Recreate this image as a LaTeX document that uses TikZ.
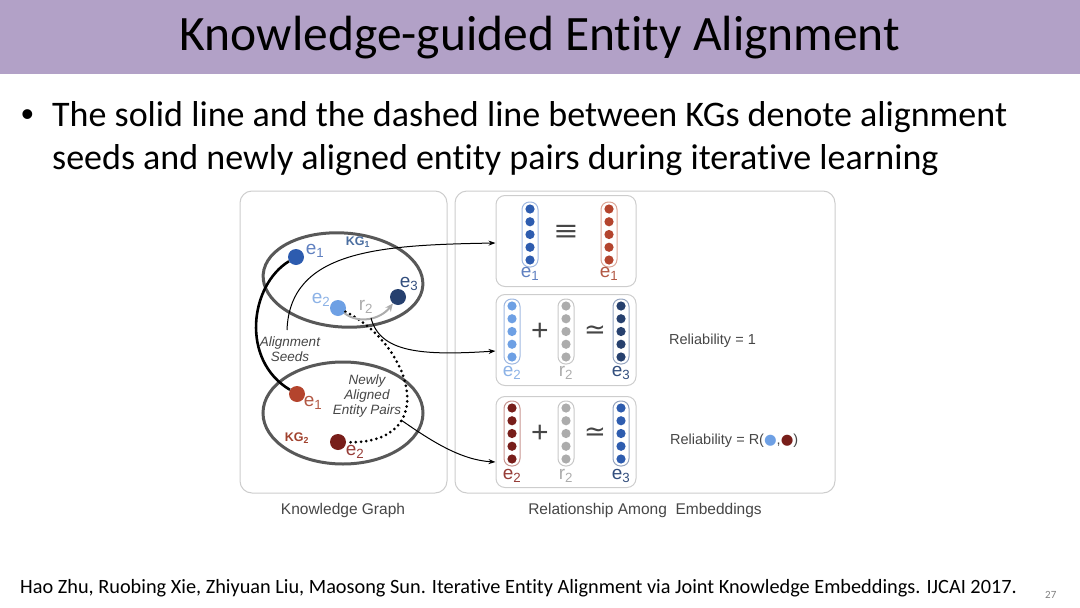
\documentclass[tikz,border=0pt]{standalone}
\usepackage{fontspec}
\setmainfont{Carlito}[Ligatures=NoCommon]
\newfontfamily\hv{Liberation Sans}
\newfontfamily\dvs{DejaVu Sans}
\usetikzlibrary{arrows.meta}
\definecolor{titlebg}{RGB}{178,161,199}
\definecolor{panelline}{RGB}{205,205,205}
\definecolor{kgline}{RGB}{88,88,88}
\definecolor{eblue}{RGB}{45,92,175}
\definecolor{elight}{RGB}{110,160,228}
\definecolor{enavy}{RGB}{38,64,110}
\definecolor{ered}{RGB}{180,68,45}
\definecolor{edark}{RGB}{120,30,26}
\definecolor{rgray}{RGB}{172,172,172}
\definecolor{kgblue}{RGB}{75,110,160}
\definecolor{kgred}{RGB}{160,65,45}
\definecolor{lblblue}{RGB}{95,128,192}
\definecolor{lbllight}{RGB}{140,178,230}
\definecolor{lblnavy}{RGB}{50,78,125}
\definecolor{lblred}{RGB}{178,88,68}
\definecolor{lbldark}{RGB}{150,60,55}
\definecolor{txtgray}{RGB}{70,70,70}
\definecolor{bblue}{RGB}{160,185,225}
\definecolor{bred}{RGB}{220,165,150}
\definecolor{bgray}{RGB}{200,200,200}
\definecolor{bnavy}{RGB}{150,165,192}
\definecolor{bdark}{RGB}{200,150,145}
\newcommand\embvec[4]{%
  \draw[draw=#4, line width=1, fill=white, rounded corners=7.5] (#1-8,#2) rectangle (#1+8,#2+65);
  \foreach \k in {0,...,4} { \fill[#3] (#1, #2+7+12.75*\k) circle (4.6); }
}
\tikzset{
  panel/.style={draw=panelline, line width=1, rounded corners=12},
  ebox/.style={draw=panelline, line width=1, rounded corners=9, minimum width=140, minimum height=91, inner sep=0},
  kg/.style={draw=kgline, line width=3},
  dot/.style={circle, inner sep=0, minimum size=16},
  elbl/.style={font=\hv\fontsize{19}{19}\selectfont, inner sep=0},
  vlbl/.style={font=\hv\fontsize{19}{19}\selectfont, inner sep=0},
  ital/.style={font=\hv\itshape\fontsize{13.5}{15}\selectfont, text=txtgray, align=center, inner sep=0},
  caption/.style={font=\hv\fontsize{15.5}{16}\selectfont, text=txtgray, inner sep=0},
  seed/.style={draw=black, line width=2.6},
  newpair/.style={draw=black, line width=3, line cap=round, dash pattern=on 0pt off 5.2pt},
  thin/.style={draw=black, line width=1, -{Stealth[length=7, width=5]}},
  rel/.style={draw=rgray, line width=2, -{Stealth[length=8, width=7]}},
  op/.style={font=\hv\fontsize{30}{30}\selectfont, text=txtgray, inner sep=0},
  rely/.style={font=\hv\fontsize{14.5}{15}\selectfont, text=txtgray, anchor=west, inner sep=0},
  body/.style={font=\fontsize{36}{43}\selectfont, anchor=base west, inner sep=0}
}
\begin{document}
\begin{tikzpicture}[x=1pt,y=-1pt]
\useasboundingbox (0,0) rectangle (1080,608);
\fill[titlebg] (0,0) rectangle (1080,74);
\node[font=\fontsize{49.5}{55}\selectfont, inner sep=0] (title) at (540,38) {Knowledge-guided Entity Alignment};
\node[body, font=\hv\fontsize{36}{43}\selectfont] (bul) at (21,126) {•};
\node[body] (l1) at (52,126) {The solid line and the dashed line between KGs denote alignment};
\node[body] (l2) at (52,169) {seeds and newly aligned entity pairs during iterative learning};

% panels
\draw[panel] (240,191) rectangle (447,493);
\draw[panel] (455,191) rectangle (835,493);
\node[ebox] (b1) at (566,241) {};
\node[ebox] (b2) at (566,340) {};
\node[ebox] (b3) at (566,442) {};
\node[caption] (capkg) at (343,510) {Knowledge Graph};
\node[caption] (capemb) at (645,510) {Relationship Among\ \ Embeddings};

% knowledge graphs
\draw[kg, rotate around={-4:(343,280)}] (343,280) ellipse [x radius=80, y radius=47];
\draw[kg] (343,413) ellipse [x radius=80, y radius=51];
\node[font=\hv\bfseries\fontsize{12.5}{13}\selectfont, text=kgblue, inner sep=0] (kg1) at (358,242) {KG\textsubscript{1}};
\node[font=\hv\bfseries\fontsize{12.5}{13}\selectfont, text=kgred, inner sep=0] (kg2) at (297,438) {KG\textsubscript{2}};

\node[dot, fill=eblue] (ae1) at (296,257) {};
\node[dot, fill=elight] (ae2) at (338,308) {};
\node[dot, fill=enavy] (ae3) at (398,297) {};
\node[dot, fill=ered] (be1) at (297,394) {};
\node[dot, fill=edark] (be2) at (338,442) {};

\node[elbl, text=lblblue] (lae1) at (315,251) {e\textsubscript{1}};
\node[elbl, text=lbllight] (lae2) at (321,300) {e\textsubscript{2}};
\node[elbl, text=lblnavy] (lae3) at (409,284) {e\textsubscript{3}};
\node[elbl, text=rgray] (lr2) at (366,307) {r\textsubscript{2}};
\node[elbl, text=lblred] (lbe1) at (313,403) {e\textsubscript{1}};
\node[elbl, text=lbldark] (lbe2) at (355,452) {e\textsubscript{2}};

\node[ital] (seeds) at (290,349) {Alignment\\Seeds};
\node[ital] (newly) at (367,396) {Newly\\Aligned\\Entity Pairs};

% connectors in the graphs
\draw[seed] (ae1) .. controls (250,285) and (240,360) .. (be1);
\draw[newpair] (ae2) .. controls (412,345) and (442,445) .. (be2);
\draw[rel] (ae2) .. controls (358,324) and (380,320) .. (ae3);

\coordinate (s1) at (287,330);
\coordinate (s2) at (371,318);
\coordinate (s3) at (401,420);
\draw[thin] (s1) .. controls (290,250) and (380,245) .. ([yshift=-2pt]b1.west);
\draw[thin] (s2) .. controls (380,352) and (420,356) .. ([yshift=-11pt]b2.west);
\draw[thin] (s3) .. controls (430,440) and (460,460) .. ([yshift=-20pt]b3.west);

% embeddings box 1
\embvec{530}{202}{eblue}{bblue}
\embvec{609}{202}{ered}{bred}
\node[op, xscale=1.3, transform shape] (eq) at (566,233) {≡};
\node[vlbl, text=lblblue] (v1a) at (530,274) {e\textsubscript{1}};
\node[vlbl, text=lblred] (v1b) at (609,274) {e\textsubscript{1}};

% box 2
\embvec{512}{299}{elight}{bblue}
\embvec{566}{299}{rgray}{bgray}
\embvec{621}{299}{enavy}{bnavy}
\node[op] (plus2) at (540,332) {+};
\node[op, font=\dvs\fontsize{26}{26}\selectfont] (sim2) at (595,332) {≃};
\node[vlbl, text=lbllight] (v2a) at (512,373) {e\textsubscript{2}};
\node[vlbl, text=rgray] (v2b) at (566,373) {r\textsubscript{2}};
\node[vlbl, text=lblnavy] (v2c) at (621,373) {e\textsubscript{3}};

% box 3
\embvec{512}{401}{edark}{bdark}
\embvec{566}{401}{rgray}{bgray}
\embvec{621}{401}{eblue}{bnavy}
\node[op] (plus3) at (540,434) {+};
\node[op, font=\dvs\fontsize{26}{26}\selectfont] (sim3) at (595,434) {≃};
\node[vlbl, text=lbldark] (v3a) at (512,476) {e\textsubscript{2}};
\node[vlbl, text=rgray] (v3b) at (566,476) {r\textsubscript{2}};
\node[vlbl, text=lblnavy] (v3c) at (621,476) {e\textsubscript{3}};

\node[rely] (r1) at (669,341) {Reliability = 1};
\node[rely] (r2) at (670,441) {Reliability = R({\dvs\textcolor{elight}{●}},{\dvs\textcolor{edark}{●}})};

% footer
\node[font=\fontsize{20.3}{22}\selectfont, anchor=base west, inner sep=0] (foot) at (20,593) {Hao Zhu, Ruobing Xie, Zhiyuan Liu, Maosong Sun. Iterative Entity Alignment via Joint Knowledge Embeddings. IJCAI 2017.};
\node[font=\fontsize{11}{12}\selectfont, text=gray, anchor=base west, inner sep=0] (pg) at (1045,598) {27};
\end{tikzpicture}
\end{document}
